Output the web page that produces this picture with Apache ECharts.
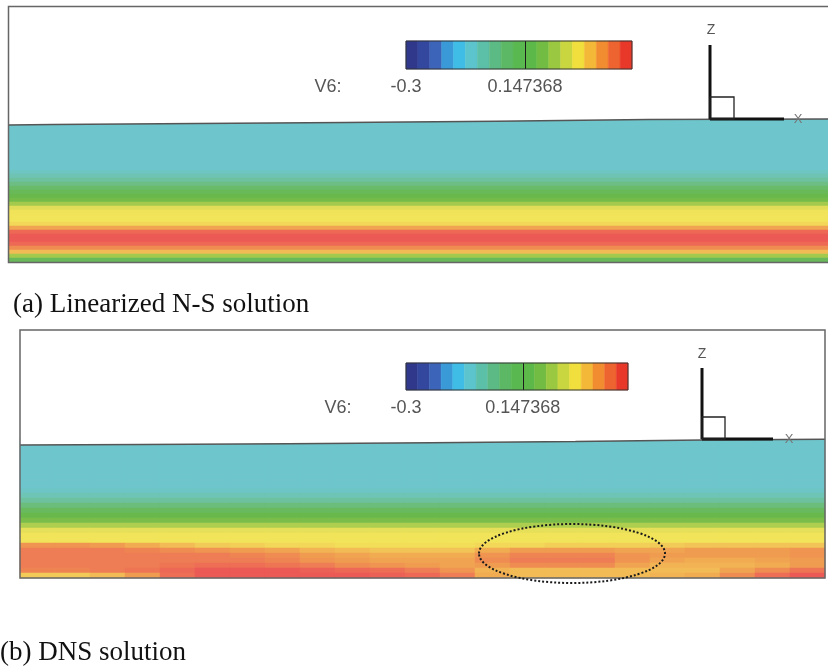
<!DOCTYPE html>
<html><head><meta charset="utf-8">
<script src="https://cdn.jsdelivr.net/npm/echarts@6/dist/echarts.min.js"></script>
<style>html,body{margin:0;padding:0;background:#fff}#c{width:828px;height:667px}</style>
</head><body><div id="c"></div>
<script>
// ---- colour-bar contour levels (V6) ----
const levelEdges = [-0.3, -0.255263, -0.210526, -0.165789, -0.121053, -0.076316, -0.031579,
  0.013158, 0.057895, 0.102632, 0.147368, 0.192105, 0.236842, 0.281579, 0.326316,
  0.371053, 0.415789, 0.460526, 0.505263, 0.55];
const colorbarTicks = [-0.3, 0.147368];
const colorbarTickLabels = ['-0.3', '0.147368'];
const variableName = 'V6:';

// ---- (a) Linearized N-S: V6 profile, rows from top to bottom (x-uniform) ----
const linearProfile = [-0.017, -0.017, -0.017, -0.017, -0.017, -0.017, -0.017, -0.017, -0.017,
  -0.017, -0.017, -0.017, -0.017, 0.01, 0.04, 0.07, 0.10, 0.13, 0.155, 0.172, 0.19, 0.25,
  0.32, 0.355, 0.36, 0.36, 0.38, 0.45, 0.53, 0.55, 0.55, 0.53, 0.48, 0.42, 0.25, 0.15];

// ---- (b) DNS: upper rows (x-uniform), top to bottom ----
const dnsProfile = [-0.017, -0.017, -0.017, -0.017, -0.017, -0.017, -0.017, -0.017, -0.017,
  -0.017, 0.0, 0.035, 0.07, 0.11, 0.145, 0.172, 0.2, 0.26, 0.33, 0.36, 0.36];
// ---- (b) DNS: lower rows near the wall, each row across 23 x-stations ----
const dnsLower = [
  [0.47,0.47,0.46,0.44,0.42,0.40,0.39,0.38,0.38,0.37,0.37,0.37,0.37,0.38,0.38,0.39,0.39,0.39,0.40,0.41,0.41,0.41,0.41],
  [0.50,0.50,0.50,0.49,0.48,0.47,0.46,0.45,0.43,0.42,0.41,0.41,0.41,0.44,0.46,0.46,0.46,0.45,0.45,0.46,0.46,0.46,0.47],
  [0.50,0.50,0.50,0.50,0.50,0.50,0.49,0.48,0.46,0.45,0.44,0.44,0.44,0.47,0.49,0.49,0.49,0.47,0.46,0.46,0.46,0.46,0.47],
  [0.50,0.50,0.50,0.50,0.50,0.50,0.50,0.49,0.47,0.46,0.45,0.45,0.45,0.48,0.50,0.50,0.50,0.47,0.45,0.44,0.44,0.45,0.46],
  [0.50,0.50,0.50,0.50,0.51,0.52,0.52,0.51,0.50,0.48,0.47,0.46,0.45,0.46,0.48,0.48,0.48,0.45,0.43,0.43,0.43,0.44,0.46],
  [0.49,0.49,0.50,0.51,0.53,0.55,0.55,0.55,0.54,0.53,0.52,0.50,0.47,0.43,0.42,0.42,0.42,0.42,0.42,0.42,0.45,0.48,0.51],
  [0.40,0.40,0.42,0.46,0.52,0.55,0.55,0.55,0.55,0.55,0.54,0.53,0.50,0.44,0.42,0.42,0.42,0.42,0.43,0.44,0.48,0.52,0.55]
];

// ---- top boundary of the computational domain (x fraction, height in row units) ----
const boundaryXA = [0, 0.054, 0.23, 0.41, 0.595, 0.78, 1.0];
const boundaryZA = [34.25, 34.4, 34.6, 34.9, 35.2, 35.6, 35.75];
const boundaryXB = [0, 0.153, 0.333, 0.51, 0.69, 0.848, 1.0];
const boundaryZB = [26.6, 26.7, 26.85, 27.05, 27.3, 27.6, 27.75];

// ---- palettes ----
const barColors = ['#2f388a','#33479e','#3c64b8','#3a9ad8','#40bde6','#5cc4cc','#5cbfa8','#5cba84',
  '#5cb864','#5ab850','#5cb848','#72bc44','#9ac840','#cad640','#f0df3c','#f4b838','#f28c30','#ee6430','#e8382a'];
const fieldColors = ['#2f3a8c','#3448a0','#3b62b8','#3f85d0','#4aaee0','#5cc0dc','#6ec6cc','#6ec4b8',
  '#6ec09a','#6abb6c','#68b84c','#88c048','#b4d050','#e0dc58','#f2e45a','#f2c456','#f0a050','#ee7a54','#ec5a55'];

// ---- build data ----
const heatA = linearProfile.map((v, i) => [0, i, v]);
const nColsB = dnsLower[0].length;
const heatB = [];
dnsProfile.forEach((v, r) => { for (let c = 0; c < nColsB; c++) heatB.push([c, r, v]); });
dnsLower.forEach((row, k) => row.forEach((v, c) => heatB.push([c, dnsProfile.length + k, v])));
const rowsA = linearProfile.map((_, i) => String(i));
const rowsB = Array.from({length: dnsProfile.length + dnsLower.length}, (_, i) => String(i));
const colsB = Array.from({length: nColsB}, (_, i) => String(i));
const bands = levelEdges.slice(0, -1).map((lo, i) => [lo, levelEdges[i + 1], i]);

function renderBand(params, api) {
  const p0 = api.coord([api.value(0), 1]);
  const p1 = api.coord([api.value(1), 0]);
  const col = barColors[api.value(2)];
  return {type: 'rect', shape: {x: p0[0], y: p0[1], width: p1[0] - p0[0], height: p1[1] - p0[1]},
    style: {fill: col, stroke: col, lineWidth: 0.5}};
}
function tickLabel(v) {
  for (let i = 0; i < colorbarTicks.length; i++) if (Math.abs(v - colorbarTicks[i]) < 1e-6) return colorbarTickLabels[i];
  return '';
}

const hidden = {show: false};
function hiddenAxis(extra) {
  return Object.assign({axisLine: hidden, axisTick: hidden, axisLabel: hidden, splitLine: hidden, splitArea: hidden}, extra);
}
function barXAxis(gi) {
  return {gridIndex: gi, type: 'value', min: levelEdges[0], max: levelEdges[levelEdges.length - 1],
    axisLine: hidden, axisTick: hidden, splitLine: hidden,
    axisLabel: {customValues: colorbarTicks, formatter: tickLabel, fontFamily: 'Liberation Sans',
      fontSize: 18, color: '#555', margin: 9, showMinLabel: true, showMaxLabel: true}};
}
function barSeries(ai) {
  return {type: 'custom', xAxisIndex: ai, yAxisIndex: ai, data: bands, renderItem: renderBand, silent: true,
    markLine: {symbol: 'none', silent: true, label: {show: false}, animation: false,
      lineStyle: {color: '#1a1a1a', width: 1, type: 'solid'}, data: [{xAxis: colorbarTicks[1]}]}};
}
function boundarySeries(ai, xs, zs) {
  return {type: 'line', xAxisIndex: ai, yAxisIndex: ai, data: xs.map((x, i) => [x, zs[i]]),
    symbol: 'none', silent: true, z: 5,
    lineStyle: {color: '#555', width: 1.5}, areaStyle: {color: '#fff', opacity: 1, origin: 'end'}};
}

const option = {
  animation: false,
  backgroundColor: '#fff',
  grid: [
    {left: 9, top: 118, width: 819, height: 144},
    {left: 9, top: 114, width: 819, height: 148},
    {left: 406, top: 41, width: 226, height: 28, show: true, borderColor: '#333', borderWidth: 1, backgroundColor: 'transparent', z: 10},
    {left: 20, top: 438, width: 805, height: 140},
    {left: 20, top: 433, width: 805, height: 145},
    {left: 406, top: 363, width: 222, height: 27, show: true, borderColor: '#333', borderWidth: 1, backgroundColor: 'transparent', z: 10}
  ],
  xAxis: [
    hiddenAxis({gridIndex: 0, type: 'category', data: ['0']}),
    hiddenAxis({gridIndex: 1, type: 'value', min: 0, max: 1}),
    barXAxis(2),
    hiddenAxis({gridIndex: 3, type: 'category', data: colsB}),
    hiddenAxis({gridIndex: 4, type: 'value', min: 0, max: 1}),
    barXAxis(5)
  ],
  yAxis: [
    hiddenAxis({gridIndex: 0, type: 'category', data: rowsA, inverse: true}),
    hiddenAxis({gridIndex: 1, type: 'value', min: 0, max: 37}),
    hiddenAxis({gridIndex: 2, type: 'value', min: 0, max: 1}),
    hiddenAxis({gridIndex: 3, type: 'category', data: rowsB, inverse: true}),
    hiddenAxis({gridIndex: 4, type: 'value', min: 0, max: 29}),
    hiddenAxis({gridIndex: 5, type: 'value', min: 0, max: 1})
  ],
  visualMap: [{type: 'continuous', show: false, min: levelEdges[0], max: levelEdges[levelEdges.length - 1],
    seriesIndex: [0, 3], inRange: {color: fieldColors}}],
  series: [
    {type: 'heatmap', xAxisIndex: 0, yAxisIndex: 0, data: heatA, silent: true, emphasis: {disabled: true}},
    boundarySeries(1, boundaryXA, boundaryZA),
    barSeries(2),
    {type: 'heatmap', xAxisIndex: 3, yAxisIndex: 3, data: heatB, silent: true, emphasis: {disabled: true}},
    boundarySeries(4, boundaryXB, boundaryZB),
    barSeries(5)
  ],
  graphic: [
    // panel frames
    {type: 'rect', z: 100, silent: true, shape: {x: 8.5, y: 6.5, width: 830, height: 256}, style: {fill: 'none', stroke: '#666', lineWidth: 1.5}},
    {type: 'rect', z: 100, silent: true, shape: {x: 20, y: 330, width: 805, height: 248}, style: {fill: 'none', stroke: '#666', lineWidth: 1.5}},
    // legend titles
    {type: 'text', z: 100, x: 328, y: 87, style: {text: variableName, font: '18px "Liberation Sans"', fill: '#555', align: 'center', verticalAlign: 'middle'}},
    {type: 'text', z: 100, x: 338, y: 408, style: {text: variableName, font: '18px "Liberation Sans"', fill: '#555', align: 'center', verticalAlign: 'middle'}},
    // axis triad (a)
    {type: 'line', z: 100, shape: {x1: 710, y1: 45, x2: 710, y2: 119}, style: {stroke: '#111', lineWidth: 3}},
    {type: 'line', z: 100, shape: {x1: 710, y1: 119, x2: 784, y2: 119}, style: {stroke: '#111', lineWidth: 3}},
    {type: 'rect', z: 100, shape: {x: 710, y: 97, width: 24, height: 22}, style: {fill: 'none', stroke: '#222', lineWidth: 1.3}},
    {type: 'text', z: 100, x: 711, y: 30, style: {text: 'Z', font: '14px "Liberation Sans"', fill: '#555', align: 'center', verticalAlign: 'middle'}},
    {type: 'text', z: 100, x: 798, y: 119, style: {text: 'X', font: '13px "Liberation Sans"', fill: '#777', align: 'center', verticalAlign: 'middle'}},
    // axis triad (b)
    {type: 'line', z: 100, shape: {x1: 702, y1: 368, x2: 702, y2: 439}, style: {stroke: '#111', lineWidth: 3}},
    {type: 'line', z: 100, shape: {x1: 702, y1: 439, x2: 773, y2: 439}, style: {stroke: '#111', lineWidth: 3}},
    {type: 'rect', z: 100, shape: {x: 702, y: 417, width: 23, height: 22}, style: {fill: 'none', stroke: '#222', lineWidth: 1.3}},
    {type: 'text', z: 100, x: 702, y: 354, style: {text: 'Z', font: '14px "Liberation Sans"', fill: '#555', align: 'center', verticalAlign: 'middle'}},
    {type: 'text', z: 100, x: 789, y: 439, style: {text: 'X', font: '13px "Liberation Sans"', fill: '#777', align: 'center', verticalAlign: 'middle'}},
    // highlighted region
    {type: 'ellipse', z: 100, silent: true, shape: {cx: 572, cy: 553.5, rx: 93, ry: 29.5}, style: {fill: 'none', stroke: '#1a1a1a', lineWidth: 2, lineDash: [2, 2]}},
    // captions
    {type: 'text', z: 100, x: 13, y: 305, style: {text: '(a) Linearized N-S solution', font: '27px "Liberation Serif"', fill: '#111', align: 'left', verticalAlign: 'middle'}},
    {type: 'text', z: 100, x: 0, y: 653, style: {text: '(b) DNS solution', font: '27px "Liberation Serif"', fill: '#111', align: 'left', verticalAlign: 'middle'}}
  ]
};
const chart = echarts.init(document.getElementById('c'));
chart.setOption(option);
</script></body></html>
